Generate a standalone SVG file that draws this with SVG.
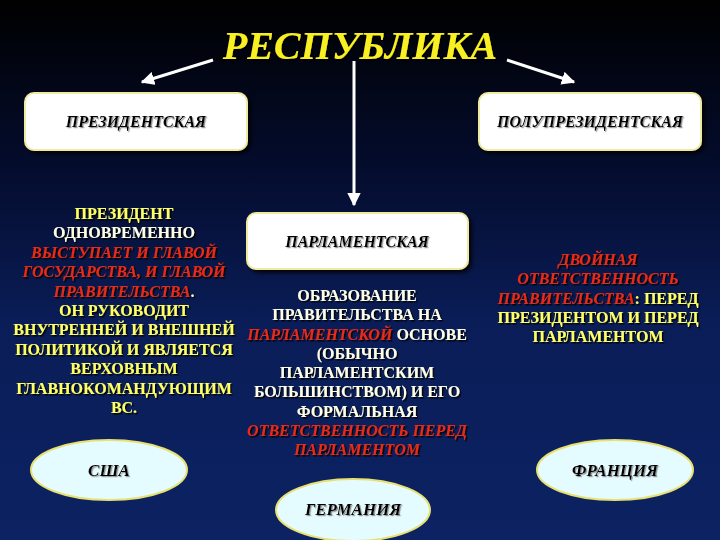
<svg xmlns="http://www.w3.org/2000/svg" width="720" height="540" viewBox="0 0 720 540">
<defs>
<linearGradient id="bg" x1="0" y1="0" x2="0" y2="1">
<stop offset="0" stop-color="#000000"/>
<stop offset="0.3" stop-color="#040c2c"/>
<stop offset="0.6" stop-color="#0a1d58"/>
<stop offset="1" stop-color="#0c2262"/>
</linearGradient>
<filter id="sh" x="-10%" y="-20%" width="120%" height="150%">
<feDropShadow dx="1.5" dy="1.5" stdDeviation="0.6" flood-color="#000000" flood-opacity="0.9"/>
</filter>
<filter id="shl" x="-10%" y="-20%" width="120%" height="150%">
<feDropShadow dx="1.2" dy="1.2" stdDeviation="0.5" flood-color="#888888" flood-opacity="0.9"/>
</filter>
<filter id="boxsh" x="-10%" y="-20%" width="120%" height="150%">
<feDropShadow dx="3" dy="3" stdDeviation="2" flood-color="#000000" flood-opacity="0.8"/>
</filter>
<marker id="ah" viewBox="0 0 10 10" refX="9" refY="5" markerWidth="4.5" markerHeight="4.5" orient="auto" markerUnits="strokeWidth">
<path d="M0,0 L10,5 L0,10 z" fill="#ffffff"/>
</marker>
<style>
.title{font-family:"Liberation Serif",serif;font-weight:bold;font-style:italic;font-size:40px;fill:#f8f020;text-anchor:middle}
.box{fill:#ffffff;stroke:#f0eaa0;stroke-width:2}
.lbl{font-family:"Liberation Serif",serif;font-weight:bold;font-style:italic;font-size:16px;fill:#000000;text-anchor:middle}
.ell{fill:#e4fcff;stroke:#e8e070;stroke-width:2}
.elbl{font-family:"Liberation Serif",serif;font-weight:bold;font-style:italic;font-size:17px;fill:#000000;text-anchor:middle}
.body{font-family:"Liberation Serif",serif;font-weight:bold;font-size:16px;text-anchor:middle}
.y{fill:#ffff66}
.w{fill:#ffffe8}
.r{fill:#e82a18;font-style:italic}
.conn{stroke:#ffffff;stroke-width:3;fill:none}
</style>
</defs>
<rect x="0" y="0" width="720" height="540" fill="url(#bg)"/>

<g id="title">
<text class="title" x="360" y="59" filter="url(#sh)">РЕСПУБЛИКА</text>
</g>

<g id="connectors">
<line class="conn" x1="213" y1="60" x2="142" y2="82" marker-end="url(#ah)"/>
<line class="conn" x1="507" y1="60" x2="574" y2="82" marker-end="url(#ah)"/>
<line class="conn" x1="354" y1="61" x2="354" y2="205" marker-end="url(#ah)"/>
</g>

<g id="presidential">
<rect class="box" x="25" y="93" width="222" height="57" rx="9" filter="url(#boxsh)"/>
<text class="lbl" x="136" y="127" filter="url(#shl)">ПРЕЗИДЕНТСКАЯ</text>
</g>

<g id="semipresidential">
<rect class="box" x="479" y="93" width="222" height="57" rx="9" filter="url(#boxsh)"/>
<text class="lbl" x="590" y="127" filter="url(#shl)">ПОЛУПРЕЗИДЕНТСКАЯ</text>
</g>

<g id="parliamentary">
<rect class="box" x="247" y="213" width="221" height="56" rx="9" filter="url(#boxsh)"/>
<text class="lbl" x="357" y="247" filter="url(#shl)">ПАРЛАМЕНТСКАЯ</text>
</g>

<g id="presidential-text" class="body" filter="url(#sh)">
<text x="124" y="219" class="y">ПРЕЗИДЕНТ</text>
<text x="124" y="238" class="w">ОДНОВРЕМЕННО</text>
<text x="124" y="258" class="r">ВЫСТУПАЕТ И ГЛАВОЙ</text>
<text x="124" y="277" class="r">ГОСУДАРСТВА, И ГЛАВОЙ</text>
<text x="124" y="297"><tspan class="r">ПРАВИТЕЛЬСТВА</tspan><tspan class="w">.</tspan></text>
<text x="124" y="316" class="y">ОН РУКОВОДИТ</text>
<text x="124" y="335" class="y">ВНУТРЕННЕЙ И ВНЕШНЕЙ</text>
<text x="124" y="355" class="y">ПОЛИТИКОЙ И ЯВЛЯЕТСЯ</text>
<text x="124" y="374" class="y">ВЕРХОВНЫМ</text>
<text x="124" y="394" class="y">ГЛАВНОКОМАНДУЮЩИМ</text>
<text x="124" y="413" class="y">ВС.</text>
</g>

<g id="parliamentary-text" class="body" filter="url(#sh)">
<text x="357" y="301" class="w">ОБРАЗОВАНИЕ</text>
<text x="357" y="320" class="w">ПРАВИТЕЛЬСТВА НА</text>
<text x="357" y="340"><tspan class="r">ПАРЛАМЕНТСКОЙ</tspan><tspan class="w"> ОСНОВЕ</tspan></text>
<text x="357" y="359" class="w">(ОБЫЧНО</text>
<text x="357" y="378" class="w">ПАРЛАМЕНТСКИМ</text>
<text x="357" y="397" class="w">БОЛЬШИНСТВОМ) И ЕГО</text>
<text x="357" y="417" class="w">ФОРМАЛЬНАЯ</text>
<text x="357" y="436" class="r">ОТВЕТСТВЕННОСТЬ ПЕРЕД</text>
<text x="357" y="455" class="r">ПАРЛАМЕНТОМ</text>
</g>

<g id="semipresidential-text" class="body" filter="url(#sh)">
<text x="598" y="265" class="r">ДВОЙНАЯ</text>
<text x="598" y="284" class="r">ОТВЕТСТВЕННОСТЬ</text>
<text x="598" y="304"><tspan class="r">ПРАВИТЕЛЬСТВА</tspan><tspan class="y">: ПЕРЕД</tspan></text>
<text x="598" y="323" class="y">ПРЕЗИДЕНТОМ И ПЕРЕД</text>
<text x="598" y="342" class="y">ПАРЛАМЕНТОМ</text>
</g>

<g id="usa">
<ellipse class="ell" cx="109" cy="470" rx="78" ry="30"/>
<text class="elbl" x="109" y="476" filter="url(#shl)">США</text>
</g>

<g id="germany">
<ellipse class="ell" cx="353" cy="510" rx="77" ry="31"/>
<text class="elbl" x="353" y="515" filter="url(#shl)">ГЕРМАНИЯ</text>
</g>

<g id="france">
<ellipse class="ell" cx="615" cy="470" rx="78" ry="30"/>
<text class="elbl" x="615" y="476" filter="url(#shl)">ФРАНЦИЯ</text>
</g>
</svg>
